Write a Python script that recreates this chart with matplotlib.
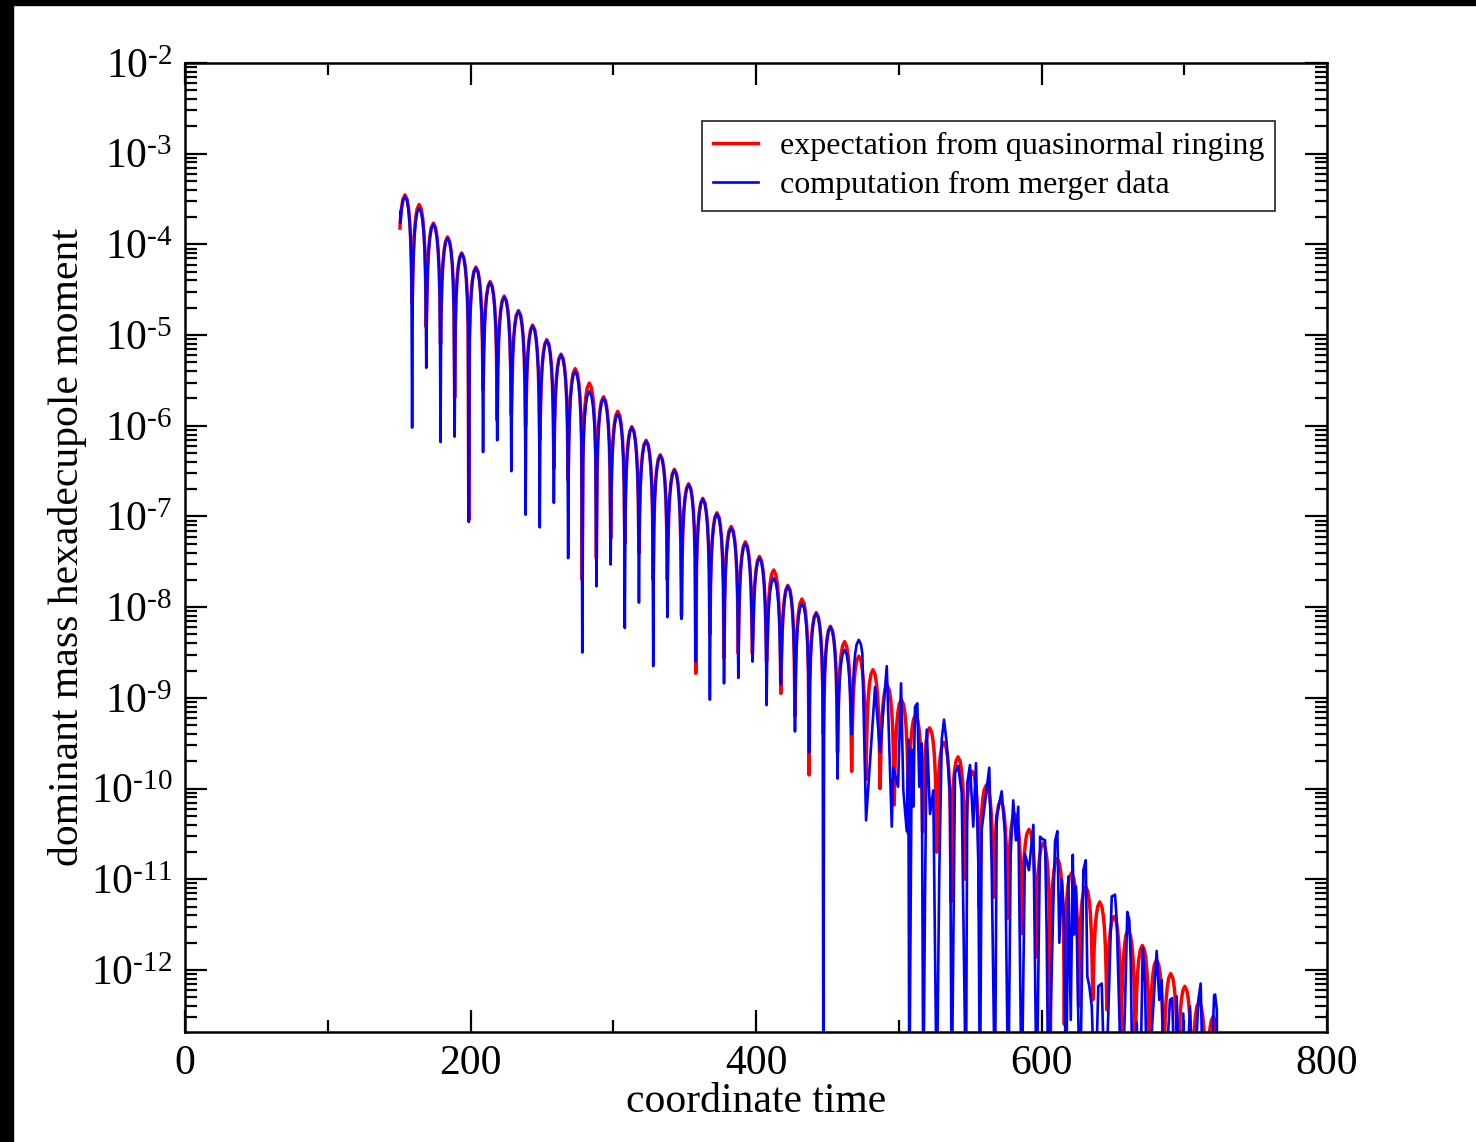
import matplotlib
matplotlib.use("Agg")
import matplotlib.pyplot as plt
from matplotlib.ticker import LogLocator, MultipleLocator, FuncFormatter, NullFormatter, FixedLocator
from matplotlib.patches import Rectangle
import math

plt.rcParams['font.family'] = ['Liberation Serif', 'DejaVu Serif']
plt.rcParams['mathtext.fontset'] = 'custom'
plt.rcParams['mathtext.rm'] = 'Liberation Serif'
plt.rcParams['mathtext.it'] = 'Liberation Serif:italic'
plt.rcParams['mathtext.bf'] = 'Liberation Serif:bold'

# ---------------- data (log10 of the moment) ----------------
peak_t = [154.1, 164.0, 174.0, 183.9, 193.8, 203.8, 213.7, 223.6, 233.6, 243.5,
          253.4, 263.4, 273.3, 283.2, 293.2, 303.1, 313.0, 323.0, 332.9, 342.8,
          352.8, 362.7, 372.6, 382.6, 392.5, 402.4, 412.4, 422.3, 432.2, 442.2,
          452.1, 462.0, 472.0, 481.9, 491.8, 501.8, 511.7, 521.6, 531.6, 541.5,
          551.4, 561.4, 571.3, 581.2, 591.2, 601.1, 611.0, 621.0, 630.9, 640.8,
          650.8, 660.7, 670.6, 680.6, 690.5, 700.4, 710.4, 720.3]
zero_t = [159.1, 169.0, 179.0, 188.9, 198.8, 208.8, 218.7, 228.6, 238.6, 248.5,
          258.4, 268.4, 278.3, 288.2, 298.2, 308.1, 318.0, 328.0, 337.9, 347.8,
          357.8, 367.7, 377.6, 387.6, 397.5, 407.4, 417.4, 427.3, 437.2, 447.2,
          457.1, 467.0, 477.0, 486.9, 496.8, 506.8, 516.7, 526.6, 536.6, 546.5,
          556.4, 566.4, 576.3, 586.2, 596.2, 606.1, 616.0, 626.0, 635.9, 645.8,
          655.8, 665.7, 675.6, 685.6, 695.5, 705.4, 715.4]

red_peak = [-3.455, -3.56, -3.766, -3.918, -4.095, -4.25, -4.41, -4.57, -4.73, -4.89,
            -5.05, -5.21, -5.37, -5.53, -5.68, -5.84, -6.01, -6.16, -6.32, -6.48,
            -6.64, -6.80, -6.96, -7.11, -7.28, -7.44, -7.59, -7.76, -7.91, -8.06,
            -8.21, -8.38, -8.54, -8.69, -8.86, -9.02, -9.19, -9.33, -9.49, -9.65,
            -9.81, -9.96, -10.13, -10.28, -10.45, -10.60, -10.77, -10.93, -11.08, -11.25,
            -11.41, -11.56, -11.73, -11.89, -12.04, -12.18, -12.35, -12.51]
red_trough = [-4.65, -4.91, -5.10, -5.69, -7.04, -5.60, -5.94, -5.88, -6.00, -6.16,
              -6.47, -6.60, -7.70, -7.46, -7.24, -7.30, -7.40, -7.70, -7.70, -8.09,
              -8.73, -8.30, -8.56, -8.51, -8.51, -8.60, -8.95, -9.20, -9.85, -9.40,
              -9.60, -9.81, -9.90, -10.00, -10.18, -10.50, -10.48, -10.70, -11.25, -11.00,
              -11.30, -11.20, -11.43, -11.60, -11.86, -13.5, -12.60, -12.40, -12.33, -12.44,
              -13.5, -13.5, -13.5, -13.5, -13.5, -13.5, -13.5]
red_start = (150.6, -3.82)
red_end = (722.6, -13.0)

blue_peak = [-3.47, -3.60, -3.78, -3.93, -4.10, -4.26, -4.42, -4.58, -4.74, -4.90,
             -5.06, -5.22, -5.40, -5.62, -5.70, -5.87, -6.02, -6.17, -6.33, -6.49,
             -6.65, -6.81, -6.97, -7.13, -7.30, -7.46, -7.68, -7.77, -7.96, -8.07,
             -8.22, -8.47, -8.36]
blue_trough = [-6.02, -5.36, -6.18, -6.12, -7.06, -6.29, -6.16, -6.50, -6.98, -7.12,
               -6.85, -7.46, -8.50, -7.77, -7.53, -8.23, -7.95, -8.65, -8.11, -8.13,
               -8.60, -9.02, -8.84, -8.78, -8.60, -9.08, -8.85, -9.37, -9.60, -13.5,
               -9.89, -9.40]
blue_start = (150.8, -3.64)

# noisy late part of the merger-data curve
blue_tail_t = [477.1, 483.4, 486.9, 491.6, 495.1, 496.2, 499.5, 501.6, 503.2, 505.6,
               506.7, 507.4, 509.1, 510.2, 511.4, 513.0, 514.4, 516.1, 517.2, 518.4,
               519.6, 521.9, 524.2, 526.6, 528.4, 530.1, 531.7, 533.6, 535.9, 537.1,
               539.4, 541.7, 544.1, 547.1, 548.0, 549.9, 552.2, 554.1, 555.7, 556.9,
               558.1, 560.4, 563.4, 565.1, 567.4, 568.6, 572.1, 574.4, 576.7, 578.4,
               580.2, 582.1, 583.7, 586.1, 588.4, 591.2, 594.3, 596.6, 599.0, 600.1,
               602.5, 603.6, 604.8, 608.3, 609.5, 611.1, 612.5, 614.2, 615.8, 617.2,
               618.8, 620.5, 621.9, 622.8, 624.2, 625.8, 627.0, 629.3, 631.0, 632.1,
               633.5, 635.2, 637.5, 639.8, 642.2, 644.5, 646.8, 649.2, 651.5, 652.7,
               654.5, 656.2, 658.5, 660.1, 661.5, 662.5, 663.9, 666.7, 669.0, 670.9,
               672.5, 674.1, 678.3, 680.7, 682.5, 684.2, 685.8, 690.0, 691.6, 693.5,
               694.7, 697.0, 699.3, 701.0, 704.0, 706.3, 709.9, 711.5, 713.4, 718.1,
               720.9, 721.6, 722.8, 723.1]
blue_tail_v = [-10.35, -8.88, -9.60, -8.65, -10.42, -9.77, -9.98, -8.84, -10.02, -10.47,
               -9.46, -13.5, -9.57, -10.20, -9.10, -9.06, -9.98, -9.50, -13.5, -11.19,
               -9.35, -10.28, -10.02, -13.5, -10.93, -9.46, -9.24, -9.50, -10.05, -13.5,
               -9.83, -9.75, -10.05, -13.5, -9.94, -9.74, -10.42, -9.72, -10.79, -13.5,
               -10.45, -10.16, -9.77, -10.86, -13.5, -10.31, -10.03, -10.50, -13.5, -10.72,
               -10.13, -10.57, -10.20, -13.5, -10.72, -10.90, -10.40, -13.5, -10.53, -10.55,
               -10.57, -11.56, -13.5, -11.26, -10.58, -10.47, -11.70, -11.00, -11.48, -13.5,
               -10.97, -12.55, -10.73, -11.61, -11.08, -12.55, -13.5, -10.90, -10.79, -12.07,
               -12.18, -12.40, -13.5, -12.18, -12.15, -13.5, -12.48, -11.19, -11.17, -11.45,
               -12.48, -13.5, -12.40, -11.36, -11.45, -11.89, -13.5, -12.58, -13.5, -11.76,
               -12.14, -13.5, -12.40, -11.79, -12.33, -12.11, -13.5, -12.33, -12.31, -13.5,
               -12.29, -13.5, -12.48, -13.5, -12.40, -13.5, -12.33, -12.15, -13.5, -13.5,
               -12.28, -12.27, -12.44, -13.5]

# shape of a single ringing lobe: (distance from its zero in t, offset below its top in log10)
lobe_profile = [(0.5, -0.80), (1.0, -0.50), (1.7, -0.29), (2.5, -0.15), (3.5, -0.05)]

x_ticks = [0, 200, 400, 600, 800]
y_decades = [-12, -11, -10, -9, -8, -7, -6, -5, -4, -3, -2]
legend_labels = ["expectation from quasinormal ringing", "computation from merger data"]


def lobe_points(pk_t, pk_v, z_t, tr_v, start=None, end=None):
    n = len(pk_v)
    nz = len(tr_v)
    ts, vs = [], []
    for k in range(n):
        tp, vp = pk_t[k], pk_v[k]
        if k == 0:
            left = start[0] if start is not None else tp - 5.0
            if start is not None:
                ts.append(start[0]); vs.append(start[1])
        else:
            left = z_t[k - 1]
            ts.append(left); vs.append(tr_v[k - 1])
        half = tp - (z_t[k - 1] if k > 0 else tp - 4.97)
        # rising side
        for d, dv in lobe_profile:
            tt = tp - half + d
            if tt > left:
                ts.append(tt); vs.append(vp + dv)
        ts.append(tp); vs.append(vp)
        # falling side
        if k == n - 1 and end is not None:
            for d, dv in reversed(lobe_profile):
                tt = tp + half - d
                if tt < end[0]:
                    ts.append(tt); vs.append(vp + dv)
            ts.append(end[0]); vs.append(end[1])
        elif k < nz:
            right = z_t[k]
            for d, dv in reversed(lobe_profile):
                ts.append(right - d); vs.append(vp + dv)
        else:
            for d, dv in reversed(lobe_profile):
                if d >= 2.5:
                    ts.append(tp + half - d); vs.append(vp + dv)
    return ts, vs


red_ts, red_vs = lobe_points(peak_t, red_peak, zero_t, red_trough, red_start, red_end)
blue_ts, blue_vs = lobe_points(peak_t[:len(blue_peak)], blue_peak, zero_t, blue_trough, blue_start)
blue_ts = blue_ts + blue_tail_t
blue_vs = blue_vs + blue_tail_v

# ---------------- figure ----------------
fig = plt.figure(figsize=(14.76, 11.42), dpi=100)
ax = fig.add_axes([185 / 1476, 1 - 1032 / 1142, 1142 / 1476, 969 / 1142])

ax.plot(red_ts, [10 ** v for v in red_vs], color='#ff0000', lw=2.5,
        label=legend_labels[0])
ax.plot(blue_ts, [10 ** v for v in blue_vs], color='#0000ff', lw=1.9,
        label=legend_labels[1])

ax.set_yscale('log')
ax.set_xlim(0, 800)
ax.set_ylim(2.07e-13, 1e-2)


def pow_label(v, pos):
    e = int(round(math.log10(v)))
    s = str(e).replace('-', '\u2010')
    return r'$\mathdefault{10^{%s}}$' % s


ax.set_xticks(x_ticks)
ax.xaxis.set_minor_locator(MultipleLocator(100))
ax.yaxis.set_major_locator(FixedLocator([10.0 ** e for e in y_decades]))
ax.yaxis.set_minor_locator(LogLocator(base=10, subs=range(2, 10), numticks=200))
ax.yaxis.set_major_formatter(FuncFormatter(pow_label))
ax.yaxis.set_minor_formatter(NullFormatter())

ax.tick_params(which='both', direction='in', top=True, right=True, colors='black', width=1.6)
ax.tick_params(which='major', length=16, labelsize=30, pad=9)
ax.tick_params(which='minor', length=8.5)
for s in ax.spines.values():
    s.set_linewidth(1.8)

ax.set_xlabel('coordinate time', fontsize=30, labelpad=0)
ax.set_ylabel('dominant mass hexadecupole moment', fontsize=30, labelpad=3)

leg = ax.legend(loc='upper right', bbox_to_anchor=((1275 - 185) / 1142, (1032 - 121) / 969),
                borderaxespad=0, fontsize=23, frameon=True, fancybox=False,
                edgecolor='black', handlelength=1.4, handletextpad=0.7,
                borderpad=0.33, labelspacing=0.3)
leg.get_frame().set_linewidth(1.3)

# black bands at the top and left edges of the picture
fig.patches.append(Rectangle((0, 1 - 5 / 1142), 1, 5 / 1142, transform=fig.transFigure,
                             color='black', zorder=10))
fig.patches.append(Rectangle((0, 0), 13 / 1476, 1, transform=fig.transFigure,
                             color='black', zorder=10))

fig.savefig('out.png', dpi=100)
